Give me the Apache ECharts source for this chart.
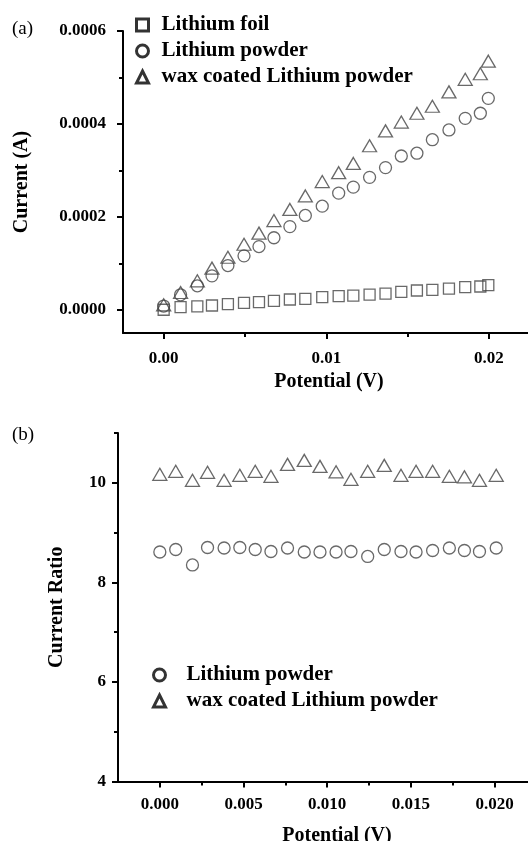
<!DOCTYPE html>
<html><head><meta charset="utf-8">
<script src="https://cdn.jsdelivr.net/npm/echarts@6/dist/echarts.min.js"></script>
<style>html,body{margin:0;padding:0;background:#fff}#c{width:528px;height:841px}</style>
</head><body><div id="c"></div>
<script>
// Panel (a): current vs potential
const potentialA = [0.0000, 0.00104, 0.00207, 0.00297, 0.00395, 0.00494, 0.00586, 0.00678, 0.00776, 0.00871, 0.00975,
  0.01076, 0.01166, 0.01266, 0.01364, 0.01461, 0.01557, 0.01652, 0.01754, 0.01854, 0.01947, 0.01996];
const foilCurrent = [0.0000000, 0.0000058, 0.0000071, 0.0000092, 0.0000122, 0.0000150, 0.0000165, 0.0000193, 0.0000221, 0.0000236, 0.0000273,
  0.0000294, 0.0000306, 0.0000328, 0.0000349, 0.0000387, 0.0000415, 0.0000430, 0.0000457, 0.0000488, 0.0000501, 0.0000530];
const powderCurrent = [0.0000080, 0.0000322, 0.0000516, 0.0000730, 0.0000952, 0.0001160, 0.0001360, 0.0001550, 0.0001790, 0.0002030, 0.0002230,
  0.0002510, 0.0002640, 0.0002850, 0.0003060, 0.0003310, 0.0003370, 0.0003660, 0.0003870, 0.0004120, 0.0004230, 0.0004550];
const waxCurrent = [0.0000107, 0.0000372, 0.0000623, 0.0000896, 0.0001130, 0.0001410, 0.0001650, 0.0001920, 0.0002160, 0.0002450, 0.0002760,
  0.0002950, 0.0003150, 0.0003530, 0.0003850, 0.0004040, 0.0004230, 0.0004380, 0.0004690, 0.0004960, 0.0005080, 0.0005350];
// Panel (b): current ratio vs potential
const potentialB = [0.0000, 0.00095, 0.00195, 0.00285, 0.00384, 0.00478, 0.0057, 0.00664, 0.00763, 0.00863, 0.00957,
  0.01053, 0.01142, 0.01242, 0.01341, 0.01441, 0.01531, 0.0163, 0.0173, 0.0182, 0.0191, 0.0201];
const powderRatio = [8.61, 8.66, 8.35, 8.70, 8.69, 8.70, 8.66, 8.62, 8.69, 8.61, 8.61,
  8.61, 8.62, 8.52, 8.66, 8.62, 8.61, 8.64, 8.69, 8.64, 8.62, 8.69];
const waxRatio = [10.17, 10.23, 10.05, 10.21, 10.05, 10.15, 10.23, 10.13, 10.37, 10.45, 10.33,
  10.22, 10.07, 10.23, 10.35, 10.15, 10.23, 10.23, 10.13, 10.12, 10.05, 10.15];
// tick labels
const xTicksA = [0, 0.01, 0.02];
const xMinorA = [0.005, 0.015];
const yTicksA = [0, 0.0002, 0.0004, 0.0006];
const yMinorA = [0.0001, 0.0003, 0.0005];
const xTicksB = [0, 0.005, 0.01, 0.015, 0.02];
const xMinorB = [0.0025, 0.0075, 0.0125, 0.0175];
const yTicksB = [4, 6, 8, 10];
const yMinorB = [5, 7, 9, 11];

const SERIF = 'Liberation Serif';
const lab = (sz) => ({fontFamily: SERIF, fontWeight: 'bold', fontSize: sz, color: '#000'});
const zip = (xs, ys) => xs.map((x, i) => [x, ys[i]]);
const mark = {color: 'rgba(0,0,0,0)', borderColor: '#444', borderWidth: 1.3};

function mainAxis(grid, min, max, ticks, fmt, margin, extra) {
  return Object.assign({
    type: 'value', gridIndex: grid, min: min, max: max,
    splitLine: {show: false},
    axisLine: {show: true, onZero: false, lineStyle: {color: '#000', width: 2}},
    axisTick: {show: true, inside: false, length: 6, lineStyle: {color: '#000', width: 2}, customValues: ticks},
    axisLabel: Object.assign({show: true, margin: margin, formatter: fmt, customValues: ticks}, lab(17))
  }, extra || {});
}
function minorAxis(grid, min, max, ticks, pos) {
  return {
    type: 'value', gridIndex: grid, min: min, max: max, position: pos,
    splitLine: {show: false},
    axisLine: {show: false, onZero: false},
    axisTick: {show: true, inside: false, length: 4, lineStyle: {color: '#000', width: 2}, customValues: ticks},
    axisLabel: {show: false}
  };
}

const chart = echarts.init(document.getElementById('c'), null, {renderer: 'canvas'});
chart.setOption({
  backgroundColor: '#fff',
  animation: false,
  grid: [
    {left: 123, top: 31, width: 405, height: 302, containLabel: false, outerBoundsMode: 'none'},
    {left: 118, top: 433, width: 410, height: 348.5, containLabel: false, outerBoundsMode: 'none'}
  ],
  xAxis: [
    mainAxis(0, -0.0025, 0.0224, xTicksA, v => v.toFixed(2), 17,
      {position: 'bottom', name: 'Potential (V)', nameLocation: 'middle', nameGap: 39,
       nameTextStyle: Object.assign({padding: [0, 0, 0, 7]}, lab(20))}),
    minorAxis(0, -0.0025, 0.0224, xMinorA, 'bottom'),
    mainAxis(1, -0.0025, 0.022, xTicksB, v => v.toFixed(3), 15,
      {position: 'bottom', name: 'Potential (V)', nameLocation: 'middle', nameGap: 44,
       nameTextStyle: Object.assign({padding: [0, 0, 0, 28]}, lab(20))}),
    minorAxis(1, -0.0025, 0.022, xMinorB, 'bottom')
  ],
  yAxis: [
    mainAxis(0, -0.00005, 0.0006, yTicksA, v => v.toFixed(4), 17,
      {position: 'left', name: 'Current (A)', nameLocation: 'middle', nameGap: 91, nameTextStyle: lab(20)}),
    minorAxis(0, -0.00005, 0.0006, yMinorA, 'left'),
    mainAxis(1, 4, 11, yTicksB, v => String(v), 12,
      {position: 'left', name: 'Current Ratio', nameLocation: 'middle', nameGap: 51, nameTextStyle: lab(20)}),
    minorAxis(1, 4, 11, yMinorB, 'left')
  ],
  legend: [
    {orient: 'vertical', left: 130, top: 7, itemWidth: 12, itemHeight: 12, itemGap: 0,
     textStyle: Object.assign({lineHeight: 26, padding: [0, 0, 0, 8]}, lab(21)),
     itemStyle: {color: 'rgba(0,0,0,0)', borderColor: '#000', borderWidth: 3},
     data: [{name: 'Lithium foil', icon: 'rect'}, {name: 'Lithium powder', icon: 'circle'}, {name: 'wax coated Lithium powder', icon: 'triangle'}]},
    {orient: 'vertical', left: 147, top: 657, itemWidth: 12, itemHeight: 12, itemGap: 0,
     textStyle: Object.assign({lineHeight: 26, padding: [0, 0, 0, 16]}, lab(21)),
     itemStyle: {color: 'rgba(0,0,0,0)', borderColor: '#000', borderWidth: 3},
     data: [{name: 'Lithium powder', icon: 'circle'}, {name: 'wax coated Lithium powder', icon: 'triangle'}]}
  ],
  graphic: [
    {type: 'text', left: 12, top: 20, style: {text: '(a)', fontFamily: SERIF, fontSize: 19, fill: '#000'}},
    {type: 'text', left: 12, top: 426, style: {text: '(b)', fontFamily: SERIF, fontSize: 19, fill: '#000'}}
  ],
  series: [
    {type: 'scatter', name: 'Lithium foil', xAxisIndex: 0, yAxisIndex: 0, symbol: 'rect', symbolSize: 11,
     itemStyle: mark, data: zip(potentialA, foilCurrent)},
    {type: 'scatter', name: 'Lithium powder', xAxisIndex: 0, yAxisIndex: 0, symbol: 'circle', symbolSize: 12,
     itemStyle: mark, data: zip(potentialA, powderCurrent)},
    {type: 'scatter', name: 'wax coated Lithium powder', xAxisIndex: 0, yAxisIndex: 0, symbol: 'triangle', symbolSize: [14, 12],
     itemStyle: mark, data: zip(potentialA, waxCurrent)},
    {type: 'scatter', name: 'Lithium powder', xAxisIndex: 2, yAxisIndex: 2, symbol: 'circle', symbolSize: 12,
     itemStyle: mark, data: zip(potentialB, powderRatio)},
    {type: 'scatter', name: 'wax coated Lithium powder', xAxisIndex: 2, yAxisIndex: 2, symbol: 'triangle', symbolSize: [14, 12],
     itemStyle: mark, data: zip(potentialB, waxRatio)}
  ]
});
</script></body></html>
